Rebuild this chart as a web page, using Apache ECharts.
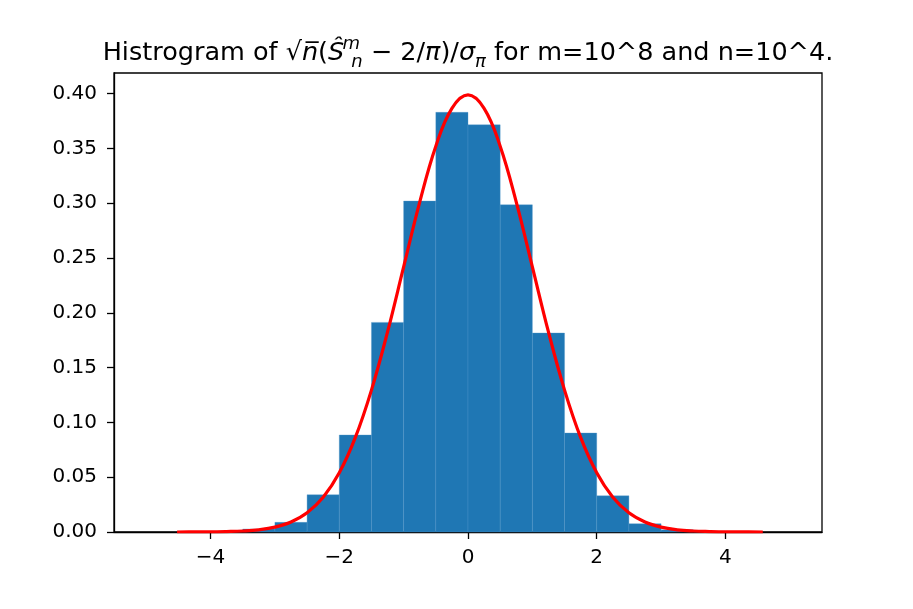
<!DOCTYPE html>
<html><head><meta charset="utf-8">
<script src="https://cdn.jsdelivr.net/npm/echarts@6/dist/echarts.min.js"></script>
<style>html,body{margin:0;padding:0;background:#fff}#c{width:913px;height:609px}</style>
</head><body><div id="c"></div>
<script>
// Histogram bins (left edge, right edge) and density heights
const binLeft  = [-5.0,-4.5,-4.0,-3.5,-3.0,-2.5,-2.0,-1.5,-1.0,-0.5, 0.0, 0.5, 1.0, 1.5, 2.0, 2.5, 3.0, 3.5, 4.0, 4.5];
const binRight = [-4.5,-4.0,-3.5,-3.0,-2.5,-2.0,-1.5,-1.0,-0.5, 0.0, 0.5, 1.0, 1.5, 2.0, 2.5, 3.0, 3.5, 4.0, 4.5, 5.0];
const binHeight= [0.0000,0.0004,0.0007,0.0027,0.0088,0.0340,0.0885,0.1913,0.3020,0.3830,0.3716,0.2986,0.1816,0.0903,0.0330,0.0076,0.0020,0.0006,0.0003,0.0000];
// Red density curve
const curveX = [-4.52,-4.25,-4.0,-3.75,-3.5,-3.25,-3.0,-2.75,-2.5,-2.25,-2.0,-1.75,-1.5,-1.25,-1.0,-0.75,-0.5,-0.25,0.0,0.25,0.5,0.75,1.0,1.25,1.5,1.75,2.0,2.25,2.5,2.75,3.0,3.25,3.5,3.75,4.0,4.25,4.58];
const curveY = [0.00002,0.00005,0.0001,0.0004,0.0009,0.0020,0.0044,0.0091,0.0175,0.0317,0.0540,0.0863,0.1295,0.1826,0.2420,0.3011,0.3521,0.3867,0.3989,0.3867,0.3521,0.3011,0.2420,0.1826,0.1295,0.0863,0.0540,0.0317,0.0175,0.0091,0.0044,0.0020,0.0009,0.0004,0.0001,0.00005,0.00001];
const xTicks = [-4,-2,0,2,4];
const yTicks = [0,0.05,0.10,0.15,0.20,0.25,0.30,0.35,0.40];

const FONT = 'DejaVu Sans';
const chart = echarts.init(document.getElementById('c'), null, {renderer:'canvas'});
const histData = binLeft.map((l,i)=>[l, binRight[i], binHeight[i]]);
const curveData = curveX.map((x,i)=>[x, curveY[i]]);
const minus = s => String(s).replace('-', '\u2212');
const base = {fontFamily:FONT,color:'#000',fontWeight:'normal'};
chart.setOption({
  animation:false,
  backgroundColor:'#fff',
  title:{
    text:'{a|Histrogram of \u221A}{i|n\u0305}{a|(}{i|\u015C}{sup|m}{sub|n}{a| \u2212 2/}{i|\u03C0}{a|)/}{i|\u03C3}{sub2|\u03C0}{a| for m=10^8 and n=10^4.}',
    left:463, top:30, textAlign:'center',
    textStyle:{
      fontWeight:'normal',
      rich:{
        a:Object.assign({fontSize:25.5,lineHeight:36},base),
        i:Object.assign({fontSize:25.5,fontStyle:'italic',lineHeight:36},base),
        sup:Object.assign({fontSize:18,fontStyle:'italic',width:0,verticalAlign:'top',lineHeight:30,padding:[0,0,0,7]},base),
        sub:Object.assign({fontSize:18,fontStyle:'italic',verticalAlign:'bottom',lineHeight:30},base),
        sub2:Object.assign({fontSize:18,fontStyle:'italic',verticalAlign:'bottom',lineHeight:32},base)
      }
    }
  },
  grid:{left:114,right:91,top:73,bottom:77,show:true,borderColor:'#000',borderWidth:1.3,backgroundColor:'transparent'},
  xAxis:{
    type:'value',min:-5.5,max:5.5,
    splitLine:{show:false},
    axisLine:{show:true,onZero:false,lineStyle:{color:'#000',width:1.3}},
    axisTick:{show:true,length:7,lineStyle:{color:'#000',width:1.3},customValues:xTicks},
    axisLabel:{color:'#000',fontFamily:FONT,fontSize:20,margin:16,customValues:xTicks,formatter:v=>minus(v)}
  },
  yAxis:{
    type:'value',min:0,max:0.4189,
    splitLine:{show:false},
    axisLine:{show:true,onZero:false,lineStyle:{color:'#000',width:1.3}},
    axisTick:{show:true,length:7,lineStyle:{color:'#000',width:1.3},customValues:yTicks},
    axisLabel:{color:'#000',fontFamily:FONT,fontSize:20,margin:17,customValues:yTicks,formatter:v=>v.toFixed(2)}
  },
  series:[
    {
      type:'custom',
      data:histData,
      encode:{x:[0,1],y:2},
      renderItem:function(params, api){
        if (!(api.value(2) > 0)) return null;
        const p0 = api.coord([api.value(0), api.value(2)]);
        const p1 = api.coord([api.value(1), 0]);
        return {type:'rect', shape:{x:p0[0], y:p0[1], width:p1[0]-p0[0], height:p1[1]-p0[1]},
          style:{fill:'#1f77b4', stroke:'rgba(80,150,200,0.5)', lineWidth:0.7}};
      },
      z:2
    },
    {
      type:'line', data:curveData, smooth:0.4, showSymbol:false, symbol:'none',
      lineStyle:{color:'#ff0000',width:3.2}, z:3, clip:true
    }
  ]
});
</script></body></html>
